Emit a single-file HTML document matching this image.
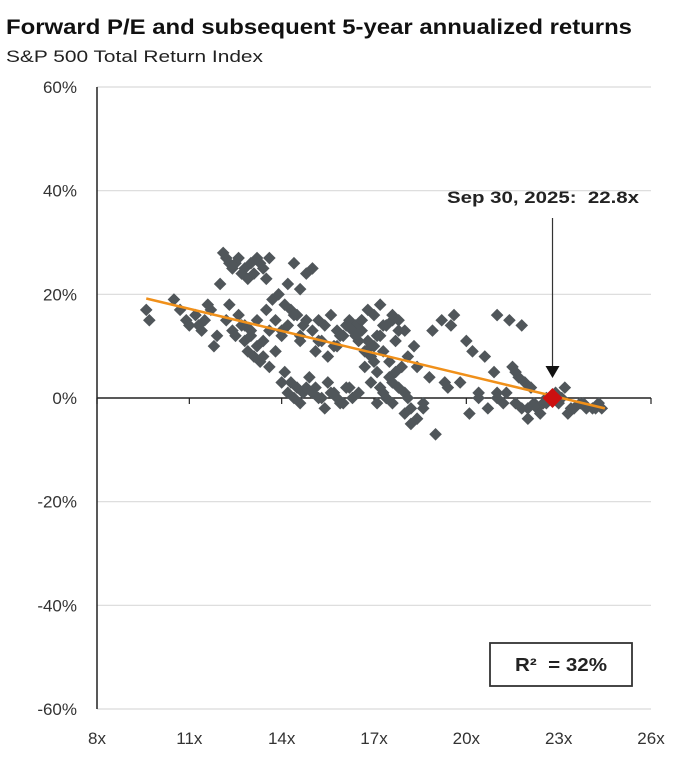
<!DOCTYPE html>
<html><head><meta charset="utf-8"><style>
body{margin:0;background:#fff;width:694px;height:766px;overflow:hidden;font-family:"Liberation Sans",sans-serif}
</style></head><body>
<svg width="694" height="766" style="position:absolute;left:0;top:0">
<text x="6" y="34" font-size="21" font-weight="bold" fill="#111" textLength="626" lengthAdjust="spacingAndGlyphs">Forward P/E and subsequent 5-year annualized returns</text>
<text x="6" y="62" font-size="17" fill="#222" textLength="257" lengthAdjust="spacingAndGlyphs">S&amp;P 500 Total Return Index</text>
<g id="grid"></g><g id="axes"></g><g id="pts"></g><g id="ann"></g>
</svg>
<script>
const NS="http://www.w3.org/2000/svg";
const yTicks=[60,40,20,0,-20,-40,-60];
const xTicks=[8,11,14,17,20,23,26];
const pe=[9.6,9.7,10.5,10.7,10.9,11.0,11.2,11.4,11.5,11.6,11.3,11.8,11.9,11.7,12.0,12.1,12.2,12.3,12.4,12.5,12.6,12.7,12.8,12.9,13.0,13.1,13.2,13.3,13.4,13.5,13.6,12.2,12.4,12.6,12.8,13.0,13.2,13.4,13.6,12.3,12.5,12.7,12.9,13.1,13.3,13.5,12.8,13.0,13.2,13.4,13.6,13.8,14.0,13.7,13.9,14.1,14.3,14.5,14.7,14.2,14.4,14.6,14.8,15.0,13.8,14.0,14.2,14.4,14.6,14.8,15.0,15.2,15.4,15.6,15.8,16.0,16.2,16.4,16.6,14.1,14.3,14.5,14.7,14.9,15.1,15.3,15.5,15.7,15.9,16.1,16.3,16.5,14.0,14.2,14.4,14.6,14.8,15.0,15.2,15.4,15.6,15.8,16.0,16.2,15.1,15.3,15.5,15.7,15.9,16.1,16.3,16.5,16.7,16.9,17.1,17.3,16.6,16.8,17.0,17.2,17.4,17.6,17.8,16.4,16.6,16.8,17.0,17.2,17.4,17.6,17.8,18.0,16.7,16.9,17.1,17.3,17.5,17.7,17.9,18.1,18.3,17.0,17.2,17.4,17.6,18.0,18.2,18.4,17.3,17.5,17.7,17.1,17.4,17.8,18.0,18.2,18.6,19.0,19.3,18.6,18.9,19.2,19.5,19.6,20.0,20.2,20.4,20.7,21.0,20.1,20.6,20.9,21.3,21.5,21.7,21.9,22.1,22.2,21.0,21.4,21.8,22.0,22.3,22.5,22.9,23.1,23.3,23.5,23.7,23.9,24.1,24.3,24.4,21.6,22.0,22.4,22.6,23.0,23.4,23.8,24.2,21.2,21.8,22.6,23.2,19.8,20.4,21.0,21.6,18.4,18.8,19.4,16.9,17.6,18.1,14.6,15.2,15.8];
const ret=[17,15,19,17,15,14,16,13,15,18,14,10,12,17,22,28,27,26,25,26,27,24,25,23,26,24,27,26,25,23,27,15,13,16,14,12,15,11,13,18,12,14,9,8,7,17,11,13,10,8,6,9,12,19,20,18,17,16,14,22,26,21,24,25,15,13,14,16,12,15,13,11,14,16,13,12,15,14,15,5,3,2,1,4,2,0,3,1,-1,2,0,1,3,1,0,-1,2,1,0,-2,1,0,-1,2,9,11,8,10,12,14,13,11,9,10,12,14,15,17,16,18,14,15,13,12,13,11,10,12,14,16,15,13,6,8,5,9,7,11,6,8,10,7,2,0,3,1,-2,-4,1,4,5,-1,0,2,-3,-5,-2,-7,3,-1,13,15,14,16,11,9,0,-2,1,-3,8,5,1,6,4,3,2,-1,16,15,14,-4,-2,-1,1,0,-3,-2,-1,-2,-2,-1,-2,-1,-2,-3,0,-1,-2,-1,-2,-1,-2,-1,2,3,1,0,5,6,4,2,3,-1,0,11,15,10,13,7,9,5];
const cur={pe:22.8,ret:0};
const fit={x1:9.6,x2:24.5,a:32.86,b:-1.423};
const X=v=>97+(v-8)*(554/18), Y=v=>398-v*(622/120);
function mk(t,a,p){const e=document.createElementNS(NS,t);for(const k in a)e.setAttribute(k,a[k]);(p||document.getElementById('axes')).appendChild(e);return e;}
const grid=document.getElementById('grid');
yTicks.forEach(t=>{
 if(t!==0){const l=mk('line',{x1:97,x2:651,y1:Y(t),y2:Y(t),stroke:'#d9d9d9','stroke-width':1.2},grid);
 
 }
 const tx=mk('text',{x:77,y:Y(t)+6,'font-size':17,'text-anchor':'end',fill:'#333'});tx.textContent=t+'%';
 
 
});
const ya=mk('line',{x1:97,x2:97,y1:Y(60),y2:Y(-60),stroke:'#222','stroke-width':1.5});


const xa=mk('line',{x1:97,x2:651,y1:Y(0),y2:Y(0),stroke:'#222','stroke-width':1.5});


xTicks.forEach(t=>{
 const tk=mk('line',{x1:X(t),x2:X(t),y1:Y(0),y2:Y(0)+6,stroke:'#222','stroke-width':1.2});
 
 
 const tx=mk('text',{x:X(t),y:744,'font-size':17,'text-anchor':'middle',fill:'#333'});tx.textContent=t+'x';
 
 
});
const pts=document.getElementById('pts');
function dia(x,y,r,fill,p){return mk('polygon',{points:`${x},${y-r} ${x+r},${y} ${x},${y+r} ${x-r},${y}`,fill:fill},p);}
pe.forEach((v,i)=>{const d=dia(X(v),Y(ret[i]),6.3,'#50565a',pts);
 
 });
const ann=document.getElementById('ann');
const fl=mk('line',{x1:X(fit.x1),y1:Y(fit.a+fit.b*fit.x1),x2:X(fit.x2),y2:Y(fit.a+fit.b*fit.x2),stroke:'#f0901a','stroke-width':2.5},ann);


const rd=dia(X(cur.pe),Y(cur.ret),10,'#cc1010',ann);


const ar=mk('line',{x1:X(cur.pe),x2:X(cur.pe),y1:218,y2:370,stroke:'#333','stroke-width':1.2},ann);


const ah=mk('polygon',{points:`${X(cur.pe)-7},366 ${X(cur.pe)+7},366 ${X(cur.pe)},378`,fill:'#111'},ann);


const at=mk('text',{x:447,y:203,'font-size':17,'font-weight':'bold',fill:'#222',textLength:192,lengthAdjust:'spacingAndGlyphs'},ann);
at.textContent='Sep 30, 2025:\u00a0\u00a022.8x';


const bx=mk('rect',{x:490,y:643,width:142,height:43,fill:'#fff',stroke:'#333','stroke-width':1.8},ann);


const bt=mk('text',{x:515,y:671,'font-size':18,'font-weight':'bold',fill:'#222',textLength:92,lengthAdjust:'spacingAndGlyphs'},ann);
bt.textContent='R²\u00a0\u00a0= 32%';


</script>
</body></html>
